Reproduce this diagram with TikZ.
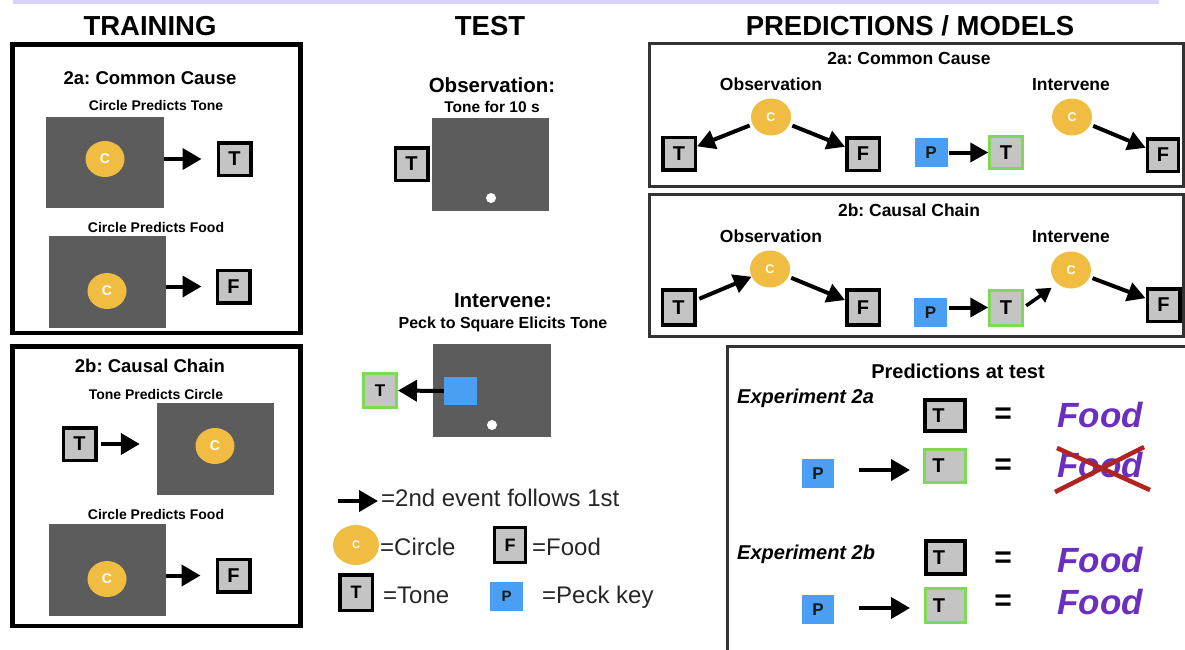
\documentclass[tikz,border=0pt]{standalone}
\usepackage{fontspec}
\setmainfont{Liberation Sans}
\usetikzlibrary{arrows.meta,shapes.geometric}
\definecolor{screen}{HTML}{5C5C5C}
\definecolor{cgold}{HTML}{F0BC42}
\definecolor{boxgray}{HTML}{C4C4C4}
\definecolor{pblue}{HTML}{4A9FF5}
\definecolor{tgreen}{HTML}{7ED957}
\definecolor{foodpurple}{HTML}{6B2FC0}
\definecolor{xred}{HTML}{B0231E}
\definecolor{lav}{HTML}{D9D2FA}
\definecolor{frame}{HTML}{333333}
\definecolor{legtext}{HTML}{262626}
\newcommand{\myfs}[1]{\fontsize{#1pt}{#1pt}\selectfont}
\frenchspacing
\begin{document}
\begin{tikzpicture}[x=1pt,y=-1pt,
  sq/.style={draw=black, line width=3.5pt, fill=boxgray, minimum width=32.5pt, minimum height=32.5pt, inner sep=0pt, font=\myfs{20}\bfseries},
  gsq/.style={sq, draw=tgreen, line width=3pt},
  cc/.style={ellipse, fill=cgold, minimum width=40pt, minimum height=37pt, inner sep=0pt, text=white, font=\myfs{12.5}\bfseries},
  pk/.style={fill=pblue, minimum width=33pt, minimum height=29pt, inner sep=0pt, font=\myfs{17}\bfseries, text=black!90},
  scr/.style={fill=screen, inner sep=0pt},
  arr/.style={line width=4pt, -{Triangle[length=19pt,width=21pt]}},
  arrs/.style={line width=4pt, -{Triangle[length=18pt,width=19pt]}},
  ttl/.style={font=\myfs{27.5}\bfseries, anchor=base, inner sep=0pt},
  hd/.style={font=\myfs{18.5}\bfseries, anchor=base, inner sep=0pt},
  sbt/.style={font=\myfs{14}\bfseries, anchor=base, inner sep=0pt},
  lg/.style={font=\myfs{24}, text=legtext, anchor=base west, inner sep=0pt},
  eqs/.style={font=\myfs{30}\bfseries, inner sep=0pt},
  food/.style={font=\myfs{35}\bfseries\itshape, text=foodpurple, anchor=base, inner sep=0pt},
  wdot/.style={circle, fill=white, minimum size=10pt, inner sep=0pt},
  panel/.style={draw=black, line width=4.5pt},
  rpanel/.style={draw=frame, line width=3pt}
]
\useasboundingbox (0,0) rectangle (1185,649);
\fill[lav] (13,0) rectangle (1159,3.5);

% ---------------- titles
\node[ttl] (tTrain) at (150,35) {TRAINING};
\node[ttl] (tTest) at (490,35) {TEST};
\node[ttl] (tPred) at (910,35) {PREDICTIONS / MODELS};

% ---------------- training 2a
\draw[panel] (12.5,44.5) rectangle (300.5,333);
\node[hd] (h2a) at (150,84) {2a: Common Cause};
\node[sbt] (s2a1) at (156,110) {Circle Predicts Tone};
\node[scr, minimum width=118pt, minimum height=91pt] (s1) at (105,162.5) {};
\node[cc, minimum width=39pt, minimum height=36pt, font=\myfs{14}\bfseries] (c1) at (105,159) {C};
\node[sq] (t1) at (234.5,159) {T};
\draw[arr] (s1.east |- t1.west) -- ([xshift=-15pt]t1.west);
\node[sbt] (s2a2) at (156,232) {Circle Predicts Food};
\node[scr, minimum width=117pt, minimum height=92pt] (s2) at (107.5,282) {};
\node[cc, minimum width=39pt, minimum height=36pt, font=\myfs{14}\bfseries] (c2) at (107,291) {C};
\node[sq] (f1) at (233.5,286.5) {F};
\draw[arr] (s2.east |- f1.west) -- ([xshift=-14pt]f1.west);

% ---------------- training 2b
\draw[panel] (12.5,346.5) rectangle (300.5,626);
\node[hd] (h2b) at (150,372) {2b: Causal Chain};
\node[sbt] (s2b1) at (156,399) {Tone Predicts Circle};
\node[sq] (t2) at (79.5,444) {T};
\node[scr, minimum width=117pt, minimum height=92pt] (s3) at (215.5,449) {};
\node[cc, minimum width=39pt, minimum height=36pt, font=\myfs{14}\bfseries] (c3) at (215,446) {C};
\draw[arr, shorten <=3pt] (t2.east) -- ([xshift=-17pt]s3.west |- t2.east);
\node[sbt] (s2b2) at (156,519) {Circle Predicts Food};
\node[scr, minimum width=117pt, minimum height=92pt] (s4) at (107.5,570) {};
\node[cc, minimum width=39pt, minimum height=36pt, font=\myfs{14}\bfseries] (c4) at (107,579) {C};
\node[sq] (f2) at (233.5,575.5) {F};
\draw[arr] (s4.east |- f2.west) -- ([xshift=-15pt]f2.west);

% ---------------- test
\node[font=\myfs{20.5}\bfseries, anchor=base, inner sep=0pt] (obsT) at (492,92) {Observation:};
\node[font=\myfs{15.5}\bfseries, anchor=base, inner sep=0pt] (tone10) at (492,112) {Tone for 10 s};
\node[scr, minimum width=117pt, minimum height=93pt] (s5) at (490.5,164.5) {};
\node[wdot] (d5) at (491,198) {};
\node[sq] (t3) at (411.5,164) {T};
\node[font=\myfs{20.5}\bfseries, anchor=base, inner sep=0pt] (intT) at (503,307) {Intervene:};
\node[font=\myfs{16}\bfseries, anchor=base, inner sep=0pt] (peckT) at (503,328) {Peck to Square Elicits Tone};
\node[scr, minimum width=118pt, minimum height=93pt] (s6) at (492,390.5) {};
\node[fill=pblue, minimum width=33pt, minimum height=28pt, inner sep=0pt] (b6) at (460.5,391) {};
\node[wdot] (d6) at (492,425) {};
\node[gsq, minimum width=33pt, minimum height=34pt, font=\myfs{17}\bfseries] (tg0) at (380,390.5) {T};
\draw[arr] (b6.west) -- (tg0.east);

% ---------------- legend
\coordinate (la) at (338,501);
\coordinate (lb) at (378,501);
\draw[arr] (la) -- (lb);
\node[lg] (l1) at (381,506) {=2nd event follows 1st};
\node[cc, minimum width=46pt, minimum height=40pt, font=\myfs{11}\bfseries] (lc) at (356,545) {C};
\node[lg] (l2) at (380,555) {=Circle};
\node[sq, minimum width=31pt, minimum height=35pt, font=\myfs{18}\bfseries] (lf) at (510,545) {F};
\node[lg] (l3) at (532,555) {=Food};
\node[sq, minimum width=32.5pt, minimum height=35.5pt, font=\myfs{18}\bfseries] (lt) at (356,592.5) {T};
\node[lg] (l4) at (383,603) {=Tone};
\node[pk, font=\myfs{15}\bfseries] (lp) at (506.5,596.5) {\raisebox{-3pt}{P}};
\node[lg] (l5) at (542,603) {=Peck key};

% ---------------- predictions 2a
\draw[rpanel] (649.5,43.5) rectangle (1183.5,186.5);
\node[font=\myfs{17.5}\bfseries, anchor=base, inner sep=0pt] (rh2a) at (909,64) {2a: Common Cause};
\node[font=\myfs{17.5}\bfseries, anchor=base, inner sep=0pt] (ro2a) at (771,90) {Observation};
\node[font=\myfs{17.5}\bfseries, anchor=base, inner sep=0pt] (ri2a) at (1071,90) {Intervene};
\node[cc] (cA1) at (771,117) {C};
\node[sq] (tA1) at (679,153.5) {T};
\node[sq] (fA1) at (863,154) {F};
\draw[arrs, shorten <=3pt] (cA1) -- (tA1);
\draw[arrs, shorten <=3pt] (cA1) -- (fA1);
\node[pk] (pA1) at (931,152.5) {\raisebox{-3pt}{P}};
\node[gsq] (tgA1) at (1006,152.5) {T};
\draw[arrs, shorten <=1.5pt] (pA1.east) -- (tgA1.west);
\node[cc] (cA2) at (1072,117) {C};
\node[sq, minimum width=31pt] (fA2) at (1163,155) {F};
\draw[arrs, shorten <=3pt] (cA2) -- (fA2);

% ---------------- predictions 2b
\draw[rpanel] (649.5,194.5) rectangle (1183.5,336.5);
\node[font=\myfs{17.5}\bfseries, anchor=base, inner sep=0pt] (rh2b) at (909,216) {2b: Causal Chain};
\node[font=\myfs{17.5}\bfseries, anchor=base, inner sep=0pt] (ro2b) at (771,242) {Observation};
\node[font=\myfs{17.5}\bfseries, anchor=base, inner sep=0pt] (ri2b) at (1071,242) {Intervene};
\node[cc] (cB1) at (770,269) {C};
\node[sq, minimum height=35pt] (tB1) at (678.5,307.5) {T};
\node[sq, minimum height=35pt] (fB1) at (863,307.5) {F};
\draw[arrs, shorten <=3pt] (tB1) -- (cB1);
\draw[arrs, shorten <=3pt] (cB1) -- (fB1);
\node[pk] (pB1) at (930.5,312.5) {\raisebox{-3pt}{P}};
\node[gsq, minimum height=35pt] (tgB1) at (1006,307.5) {T};
\draw[arrs, shorten <=1.5pt] (pB1.east |- tgB1.west) -- (tgB1.west);
\node[cc] (cB2) at (1071,270) {C};
\node[sq] (fB2) at (1163.5,305) {F};
\draw[line width=3.5pt, -{Triangle[length=14pt,width=16pt]}, shorten <=3pt, shorten >=7pt] (tgB1.east) -- (cB2.225);
\draw[arrs, shorten <=3pt] (cB2) -- (fB2);

% ---------------- predictions at test
\draw[rpanel] (1190,346.5) -- (727.5,346.5) -- (727.5,655);
\node[font=\myfs{20}\bfseries, anchor=base, inner sep=0pt] (pat) at (958,378) {Predictions at test};
\node[font=\myfs{20}\bfseries\itshape, anchor=base west, inner sep=0pt] (e2a) at (737,403) {Experiment 2a};
\node[font=\myfs{20}\bfseries\itshape, anchor=base west, inner sep=0pt] (e2b) at (737,559) {Experiment 2b};

\node[sq, line width=4pt, minimum width=40pt, minimum height=31pt] (tP1) at (945,415.5) {T\kern13pt};
\node[eqs] (q1) at (1003,416) {=};
\node[food] (fd1) at (1100,427) {Food};

\node[pk, minimum width=32pt] (pP1) at (818,473.5) {\raisebox{-3pt}{P}};
\node[gsq, minimum width=41pt, minimum height=33pt] (tgP1) at (945,466) {T\kern13pt};
\draw[arr] ([xshift=25pt,yshift=3.5pt]pP1.east) -- ([xshift=-13pt,yshift=-4pt]tgP1.west);
\node[eqs] (q2) at (1003,467) {=};
\node[food] (fd2) at (1100,477) {Food};
\draw[xred, line width=4.5pt] (1055,492) -- (1144,447);
\draw[xred, line width=4.5pt] (1057,448) -- (1150,490);

\node[sq, line width=4pt, minimum width=39pt, minimum height=33pt] (tP2) at (945.5,557.5) {T\kern13pt};
\node[eqs] (q3) at (1003,560) {=};
\node[food] (fd3) at (1100,572) {Food};

\node[pk, minimum width=32pt] (pP2) at (818,609.5) {\raisebox{-3pt}{P}};
\node[gsq, minimum width=40pt, minimum height=34pt] (tgP2) at (945.5,605.5) {T\kern13pt};
\draw[arr] ([xshift=25pt,yshift=1.5pt]pP2.east) -- ([xshift=-14pt,yshift=-2.5pt]tgP2.west);
\node[eqs] (q4) at (1003,603) {=};
\node[food] (fd4) at (1100,614) {Food};
\end{tikzpicture}
\end{document}
